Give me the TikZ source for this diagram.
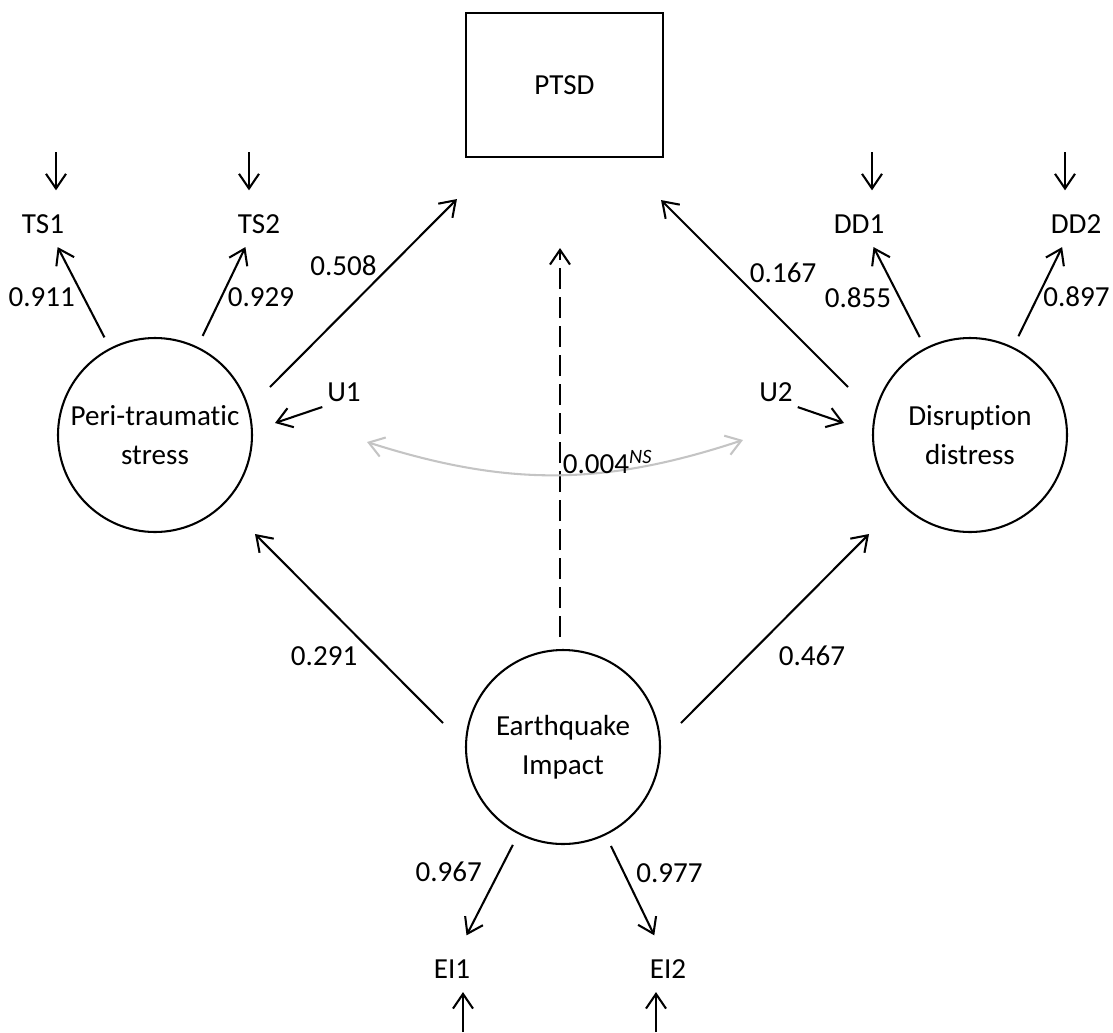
\documentclass[tikz,border=0pt]{standalone}
\usepackage{fontspec}
\setmainfont{Carlito}[Ligatures=NoCommon]
\usetikzlibrary{arrows.meta}
\definecolor{covgray}{RGB}{196,196,196}
\tikzset{
  latent/.style={circle, draw, minimum size=145.5pt, outer sep=9.75pt, inner sep=0pt, align=center},
  obs/.style={inner sep=9.75pt, text height=21.5pt, text depth=0pt},
  lab/.style={inner sep=3pt},
}
\begin{document}
\begin{tikzpicture}[x=0.75pt, y=-0.75pt, line width=1.55pt,
    >={Straight Barb[length=11pt,width=15pt]},
    font=\fontsize{21.8}{29}\selectfont]
    \useasboundingbox (0,0) rectangle (1113,1032);
    % outcome and latent variables
    \node [draw, minimum width=147.75pt, minimum height=108pt] (ptsd) at (564.5,85) {PTSD};
    \node [latent] (peri) at (155,435) {Peri-traumatic\\stress};
    \node [latent] (dis) at (970,435) {Disruption\\distress};
    \node [latent] (eq) at (563,747) {Earthquake\\Impact};
    % indicators
    \node [obs] (ts1) at (43,218.7) {TS1};
    \node [obs] (ts2) at (259,218.7) {TS2};
    \node [obs] (dd1) at (859,218.7) {DD1};
    \node [obs] (dd2) at (1076,218.7) {DD2};
    \node [obs] (ei1) at (452,963.7) {EI1};
    \node [obs] (ei2) at (668,963.7) {EI2};
    \node [inner sep=3pt] (u1) at (344,392.5) {U1};
    \node [inner sep=3pt] (u2) at (776,392.5) {U2};
    % error terms
    \coordinate (ets1) at (56,152);
    \coordinate (ets2) at (249,152);
    \coordinate (edd1) at (872,152);
    \coordinate (edd2) at (1065,152);
    \coordinate (eei1) at (463,1032);
    \coordinate (eei2) at (656,1032);
    \path[->] (ets1) edge (ets1 |- ts1.north);
    \path[->] (ets2) edge (ets2 |- ts2.north);
    \path[->] (edd1) edge (edd1 |- dd1.north);
    \path[->] (edd2) edge (edd2 |- dd2.north);
    \path[->] (eei1) edge (eei1 |- ei1.south);
    \path[->] (eei2) edge (eei2 |- ei2.south);
    % loadings
    \path[->] (peri) edge node [lab, pos=0.44, left=3pt] {0.911} (ts1);
    \path[->] (peri) edge node [lab, pos=0.44, right=1pt] {0.929} (ts2);
    \path[->] (dis) edge node [lab, pos=0.44, left=2.5pt] {0.855} (dd1);
    \path[->] (dis) edge node [lab, pos=0.44, right=0.5pt] {0.897} (dd2);
    \path[->] (eq) edge node [lab, pos=0.3, left=9pt] {0.967} (ei1);
    \path[->] (eq) edge node [lab, pos=0.3, right=5.5pt] {0.977} (ei2);
    % structural paths
    \path[->] ([shift={(115,-48)}]peri.center) edge node [lab, pos=0.645, left=6.75pt] {0.508} ([shift={(-8,41)}]ptsd.south west);
    \path[->] ([shift={(-122,-48)}]dis.center) edge node [lab, pos=0.61, right=8.25pt] {0.167} ([shift={(-3,42)}]ptsd.south east);
    \path[->] ([shift={(-120,-24)}]eq.center) edge node [lab, pos=0.355, left=10.5pt] {0.291} ([shift={(100,99)}]peri.center);
    \path[->] ([shift={(118,-24)}]eq.center) edge node [lab, pos=0.355, right=19.5pt] {0.467} ([shift={(-101,99)}]dis.center);
    \path[->, dash pattern=on 15.75pt off 6pt] ([shift={(-3,0)}]eq.north) edge ([shift={(-4.5,90)}]ptsd.south);
    \path[->] (u1.south west) edge ([shift={(120,-12)}]peri.center);
    \path[->] (u2.south east) edge ([shift={(-126,-12)}]dis.center);
    % covariance
    \path[<->, covgray] ([shift={(212,7)}]peri.center) edge [bend right=18] node [pos=0.5, anchor=base west, inner sep=0pt, xshift=5pt, yshift=1.5pt, text=black] {0.004\textsuperscript{\itshape NS}} ([shift={(-227,5)}]dis.center);
\end{tikzpicture}
\end{document}
